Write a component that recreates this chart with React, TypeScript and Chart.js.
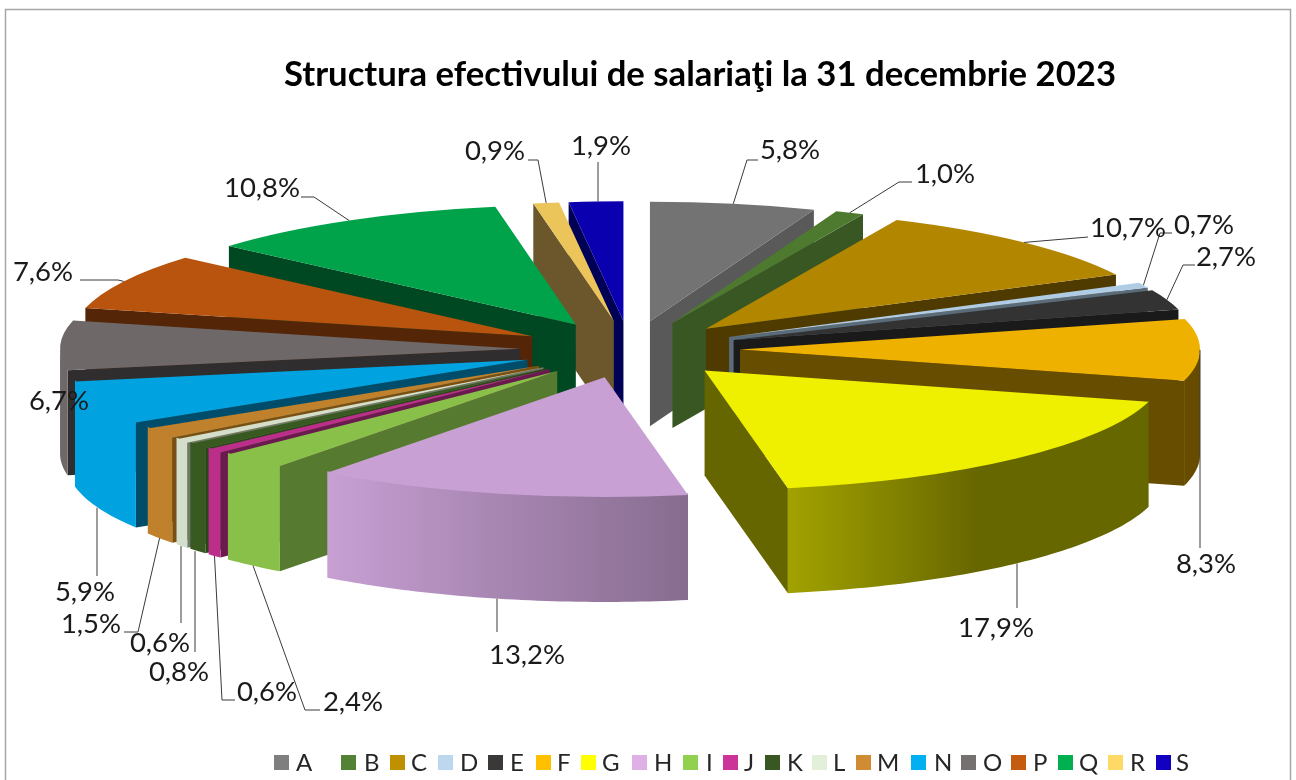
import React, { useEffect, useRef } from "react";
import { Chart, registerables } from "chart.js";

Chart.register(...registerables);

const TITLE = "Structura efectivului de salariaţi la 31 decembrie 2023";
const categories = ["A", "B", "C", "D", "E", "F", "G", "H", "I", "J", "K", "L", "M", "N", "O", "P", "Q", "R", "S"];
const shares = [5.8, 1.0, 10.7, 0.7, 2.7, 8.3, 17.9, 13.2, 2.4, 0.6, 0.8, 0.6, 1.5, 5.9, 6.7, 7.6, 10.8, 0.9, 1.9];

const faceColors = ["#737373", "#4e7a2f", "#b38600", "#b0cce4", "#333333", "#efb100", "#efef00", "#c8a0d4", "#88c04a", "#bb2f8a", "#385a20", "#d3dfca", "#c0812c", "#00a3e0", "#6e6869", "#b8540d", "#00a34a", "#ecc55a", "#0a00b0"];
const legendColors = ["#7f7f7f", "#548235", "#bf9000", "#bdd7ee", "#3b3838", "#ffc000", "#ffff00", "#dfb0e5", "#92d050", "#cc3399", "#385723", "#e2f0d9", "#d08c33", "#00b0f0", "#767171", "#c55a11", "#00b050", "#ffd966", "#1100c0"];
const wallColors = ["#595959", "#385723", "#4f3b00", "#5a6b7a", "#1a1a1a", "#664d00", "#666600", "#6b5070", "#567a2f", "#6b1a50", "#2c4619", "#6f7a68", "#7a4f10", "#004d6b", "#302d2e", "#552508", "#004822", "#6b572b", "#000055"];

const legendBoxLeft = [274, 341, 390, 438, 488, 536, 581, 632, 683, 723, 765, 812, 856, 911, 961, 1011, 1058, 1108, 1156];
const legendTextLeft = [296, 364, 411, 460, 510, 557, 602, 654, 706, 744, 787, 833, 877, 934, 983, 1033, 1079, 1130, 1176];

const labelCenterX = [790, 945, 1128, 1204, 1226, 1206, 996, 527, 353, 267, 179, 160, 91, 85, 59, 43, 262, 495, 601];
const labelCenterY = [150, 174, 228, 225, 257, 564, 628, 655, 702, 692, 672, 643, 624, 592, 401, 272, 188, 151, 146];
const leaderStartX: (number | null)[] = [null, null, null, null, null, 1200, 1017, 497, null, null, 195, 181, null, 97, null, null, null, null, 598];
const leaderBends: number[][][] = [
  [[747, 160], [758, 160]],
  [[899, 182], [912, 182]],
  [[1088, 237]],
  [[1160, 233], [1172, 233]],
  [[1183, 265], [1195, 265]],
  [[1200, 548]],
  [[1017, 608]],
  [[497, 632]],
  [[305, 710], [320, 710]],
  [[222, 700], [235, 700]],
  [[195, 652]],
  [[181, 623]],
  [[138, 632], [124, 632]],
  [[97, 576]],
  [],
  [[118, 280], [80, 280]],
  [[314, 197], [301, 197]],
  [[538, 160], [528, 160]],
  [[598, 162]],
];

const PIE_X = 630;
const PIE_Y = 349.5;
const RADIUS = 460;
const TILT = 0.26;
const EXPLODE = 110;
const DEPTH = 105;
const FONT = "Lato";
const LABEL_SIZE = 27.5;
const deg = Math.PI / 180;

function rgb(hex: string, f: number) {
  const n = parseInt(hex.slice(1), 16);
  return `rgb(${Math.round(((n >> 16) & 255) * f)},${Math.round(((n >> 8) & 255) * f)},${Math.round((n & 255) * f)})`;
}

function shade(a: number) {
  const d = a / deg;
  if (d >= 127) return 1;
  if (d >= 80) return 0.68 + ((d - 80) / 47) * 0.32;
  if (d >= 54) return 0.43 + ((d - 54) / 26) * 0.25;
  return 0.43;
}

function sliceGeom(arc: any) {
  const mid = (arc.startAngle + arc.endAngle) / 2;
  const ox = PIE_X + EXPLODE * Math.cos(mid);
  const oy = PIE_Y + TILT * EXPLODE * Math.sin(mid);
  return {
    mid,
    ox,
    oy,
    rim: (a: number) => [ox + arc.outerRadius * Math.cos(a), oy + TILT * arc.outerRadius * Math.sin(a)],
  };
}

const pie3d = {
  id: "pie3d",
  beforeDraw(chart: any) {
    const { ctx, width, height } = chart;
    ctx.save();
    ctx.fillStyle = "#ffffff";
    ctx.fillRect(0, 0, width, height);
    ctx.strokeStyle = "#a6a6a6";
    ctx.lineWidth = 1.5;
    ctx.strokeRect(5.5, 9.5, width - 11, height + 20);
    ctx.restore();
  },
  beforeDatasetsDraw(chart: any) {
    const { ctx } = chart;
    const arcs: any[] = chart.getDatasetMeta(0).data;
    const order = arcs
      .map((arc, i) => ({ arc, i, s: Math.sin((arc.startAngle + arc.endAngle) / 2) }))
      .sort((p, q) => p.s - q.s);
    for (const { arc, i } of order) {
      const g = sliceGeom(arc);
      const quad = (a: number) => {
        const [x, y] = g.rim(a);
        ctx.beginPath();
        ctx.moveTo(g.ox, g.oy);
        ctx.lineTo(x, y);
        ctx.lineTo(x, y + DEPTH);
        ctx.lineTo(g.ox, g.oy + DEPTH);
        ctx.closePath();
        ctx.fillStyle = wallColors[i];
        ctx.fill();
      };
      if (-Math.cos(arc.startAngle) > 0) quad(arc.startAngle);
      if (Math.cos(arc.endAngle) > 0) quad(arc.endAngle);

      // outer curved wall: only where the rim faces the viewer
      const ranges = [[arc.startAngle, arc.endAngle], [arc.startAngle - 2 * Math.PI, arc.endAngle - 2 * Math.PI]];
      for (const [s, e] of ranges) {
        const from = Math.max(s, 0);
        const to = Math.min(e, Math.PI);
        if (to <= from) continue;
        const steps = Math.max(2, Math.ceil((to - from) / deg));
        const pts: number[][] = [];
        for (let k = 0; k <= steps; k++) pts.push(g.rim(from + ((to - from) * k) / steps));
        const x0 = pts[0][0];
        const x1 = pts[steps][0];
        const grad = ctx.createLinearGradient(x0, 0, x1, 0);
        for (let k = 0; k <= steps; k++) {
          const a = from + ((to - from) * k) / steps;
          grad.addColorStop(Math.min(1, Math.max(0, (pts[k][0] - x0) / (x1 - x0))), rgb(faceColors[i], shade(a)));
        }
        ctx.beginPath();
        // the top edge tucks under the face so no seam shows between them
        pts.forEach((p, k) => (k ? ctx.lineTo(p[0], p[1] - 1.5) : ctx.moveTo(p[0], p[1] - 1.5)));
        for (let k = steps; k >= 0; k--) ctx.lineTo(pts[k][0], pts[k][1] + DEPTH);
        ctx.closePath();
        ctx.fillStyle = grad;
        ctx.fill();
      }

      // top face: the library's own arc element, flattened and pulled out
      ctx.save();
      ctx.translate(g.ox, g.oy);
      ctx.scale(1, TILT);
      ctx.translate(-arc.x, -arc.y);
      arc.draw(ctx);
      ctx.restore();
    }
    return false;
  },
  afterDraw(chart: any) {
    const { ctx } = chart;
    const arcs: any[] = chart.getDatasetMeta(0).data;
    ctx.save();
    ctx.strokeStyle = "#3a3a3a";
    ctx.lineWidth = 1;
    arcs.forEach((arc, i) => {
      const bends = leaderBends[i];
      if (!bends.length) return;
      const g = sliceGeom(arc);
      const [x, y] = g.rim(g.mid);
      const startX = leaderStartX[i] ?? x;
      ctx.beginPath();
      ctx.moveTo(startX, Math.sin(g.mid) > 0.1 ? y + DEPTH : y);
      bends.forEach((b) => ctx.lineTo(b[0], b[1]));
      ctx.stroke();
    });
    ctx.fillStyle = "#1a1a1a";
    ctx.font = `${LABEL_SIZE}px ${FONT}`;
    ctx.textAlign = "center";
    ctx.textBaseline = "middle";
    shares.forEach((v, i) => {
      ctx.fillText(v.toFixed(1).replace(".", ",") + "%", labelCenterX[i], labelCenterY[i]);
    });
    // legend
    ctx.font = `24px ${FONT}`;
    ctx.textAlign = "left";
    categories.forEach((c, i) => {
      ctx.fillStyle = legendColors[i];
      ctx.fillRect(legendBoxLeft[i], 755, 15, 15);
      ctx.fillStyle = "#262626";
      ctx.fillText(c, legendTextLeft[i], 763);
    });
    ctx.restore();
  },
};

export default function App() {
  const ref = useRef<HTMLCanvasElement | null>(null);
  useEffect(() => {
    const chart = new Chart(ref.current as HTMLCanvasElement, {
      type: "pie",
      data: {
        labels: categories,
        datasets: [{ data: shares, backgroundColor: faceColors, borderWidth: 0 }],
      },
      options: {
        responsive: false,
        animation: false,
        radius: RADIUS,
        layout: { padding: { left: 104 } },
        plugins: {
          legend: { display: false },
          tooltip: { enabled: false },
          title: {
            display: true,
            text: TITLE,
            fullSize: false,
            color: "#000000",
            font: { family: FONT, size: 34.7, weight: "bold", lineHeight: 1.2 },
            padding: { top: 54, bottom: 10 },
          },
        },
      } as any,
      plugins: [pie3d],
    });
    return () => chart.destroy();
  }, []);
  return (
    <div style={{ position: "absolute", left: 0, top: 0 }}>
      <canvas ref={ref} width={1296} height={780} style={{ display: "block" }} />
    </div>
  );
}
